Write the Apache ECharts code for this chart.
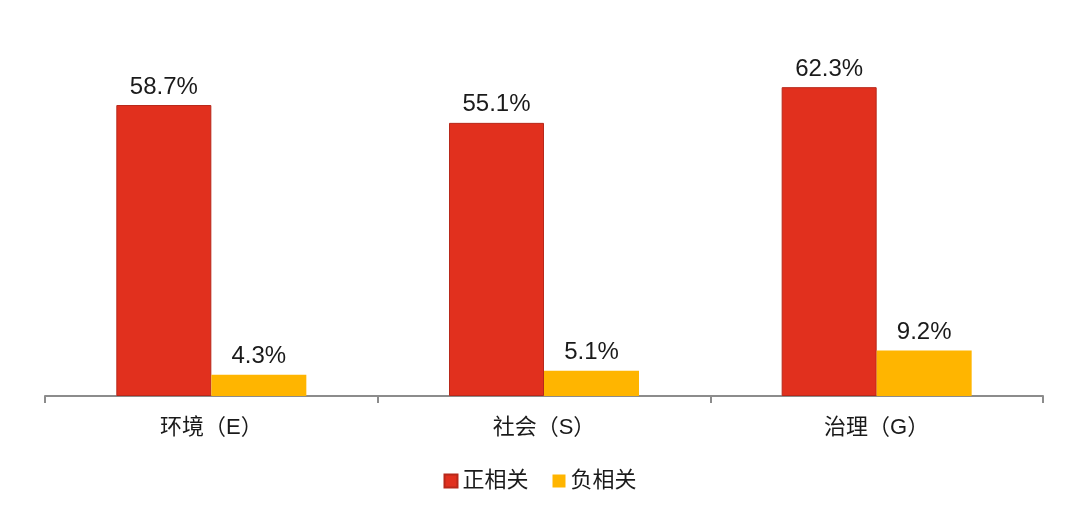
<!DOCTYPE html>
<html>
<head>
<meta charset="utf-8">
<script src="https://cdn.jsdelivr.net/npm/echarts@6/dist/echarts.min.js"></script>
<style>
  html, body { margin: 0; padding: 0; background: #fff; }
  #main { width: 1080px; height: 511px; }
</style>
</head>
<body>
<div id="main"></div>
<script>
var categories = ['环境（E）', '社会（S）', '治理（G）'];
var positive = [58.7, 55.1, 62.3];
var negative = [4.3, 5.1, 9.2];
var seriesNames = ['正相关', '负相关'];

var chart = echarts.init(document.getElementById('main'));

var labelStyle = {
    show: true,
    position: 'top',
    distance: 6,
    fontSize: 24,
    color: '#1a1a1a',
    fontFamily: '"Liberation Sans", Arial, sans-serif',
    formatter: function (p) { return p.value.toFixed(1) + '%'; }
};

var cjkFont = '"Liberation Sans", "Noto Sans CJK SC", sans-serif';

var option = {
    animation: false,
    textStyle: { fontFamily: cjkFont },
    grid: { left: 45, right: 37, top: 49, bottom: 115 },
    legend: {
        data: seriesNames,
        bottom: 14,
        left: 'center',
        icon: 'rect',
        itemWidth: 13,
        itemHeight: 13,
        itemGap: 24,
        textStyle: { fontSize: 22, color: '#1a1a1a', fontFamily: cjkFont }
    },
    xAxis: {
        type: 'category',
        data: categories,
        axisLine: { lineStyle: { color: '#8c8c8c', width: 2 } },
        axisTick: { show: true, length: 7, lineStyle: { color: '#8c8c8c', width: 2 } },
        axisLabel: { fontSize: 22, color: '#1a1a1a', margin: 21, fontFamily: cjkFont }
    },
    yAxis: {
        type: 'value',
        min: 0,
        max: 70,
        show: false,
        splitLine: { show: false }
    },
    series: [
        {
            name: seriesNames[0],
            type: 'bar',
            data: positive,
            barWidth: 95,
            barGap: '0%',
            itemStyle: { color: '#E1301E', borderColor: '#B8281A', borderWidth: 1 },
            label: labelStyle
        },
        {
            name: seriesNames[1],
            type: 'bar',
            data: negative,
            barWidth: 95,
            barGap: '0%',
            itemStyle: { color: '#FFB500' },
            label: labelStyle
        }
    ]
};

chart.setOption(option);
</script>
</body>
</html>
